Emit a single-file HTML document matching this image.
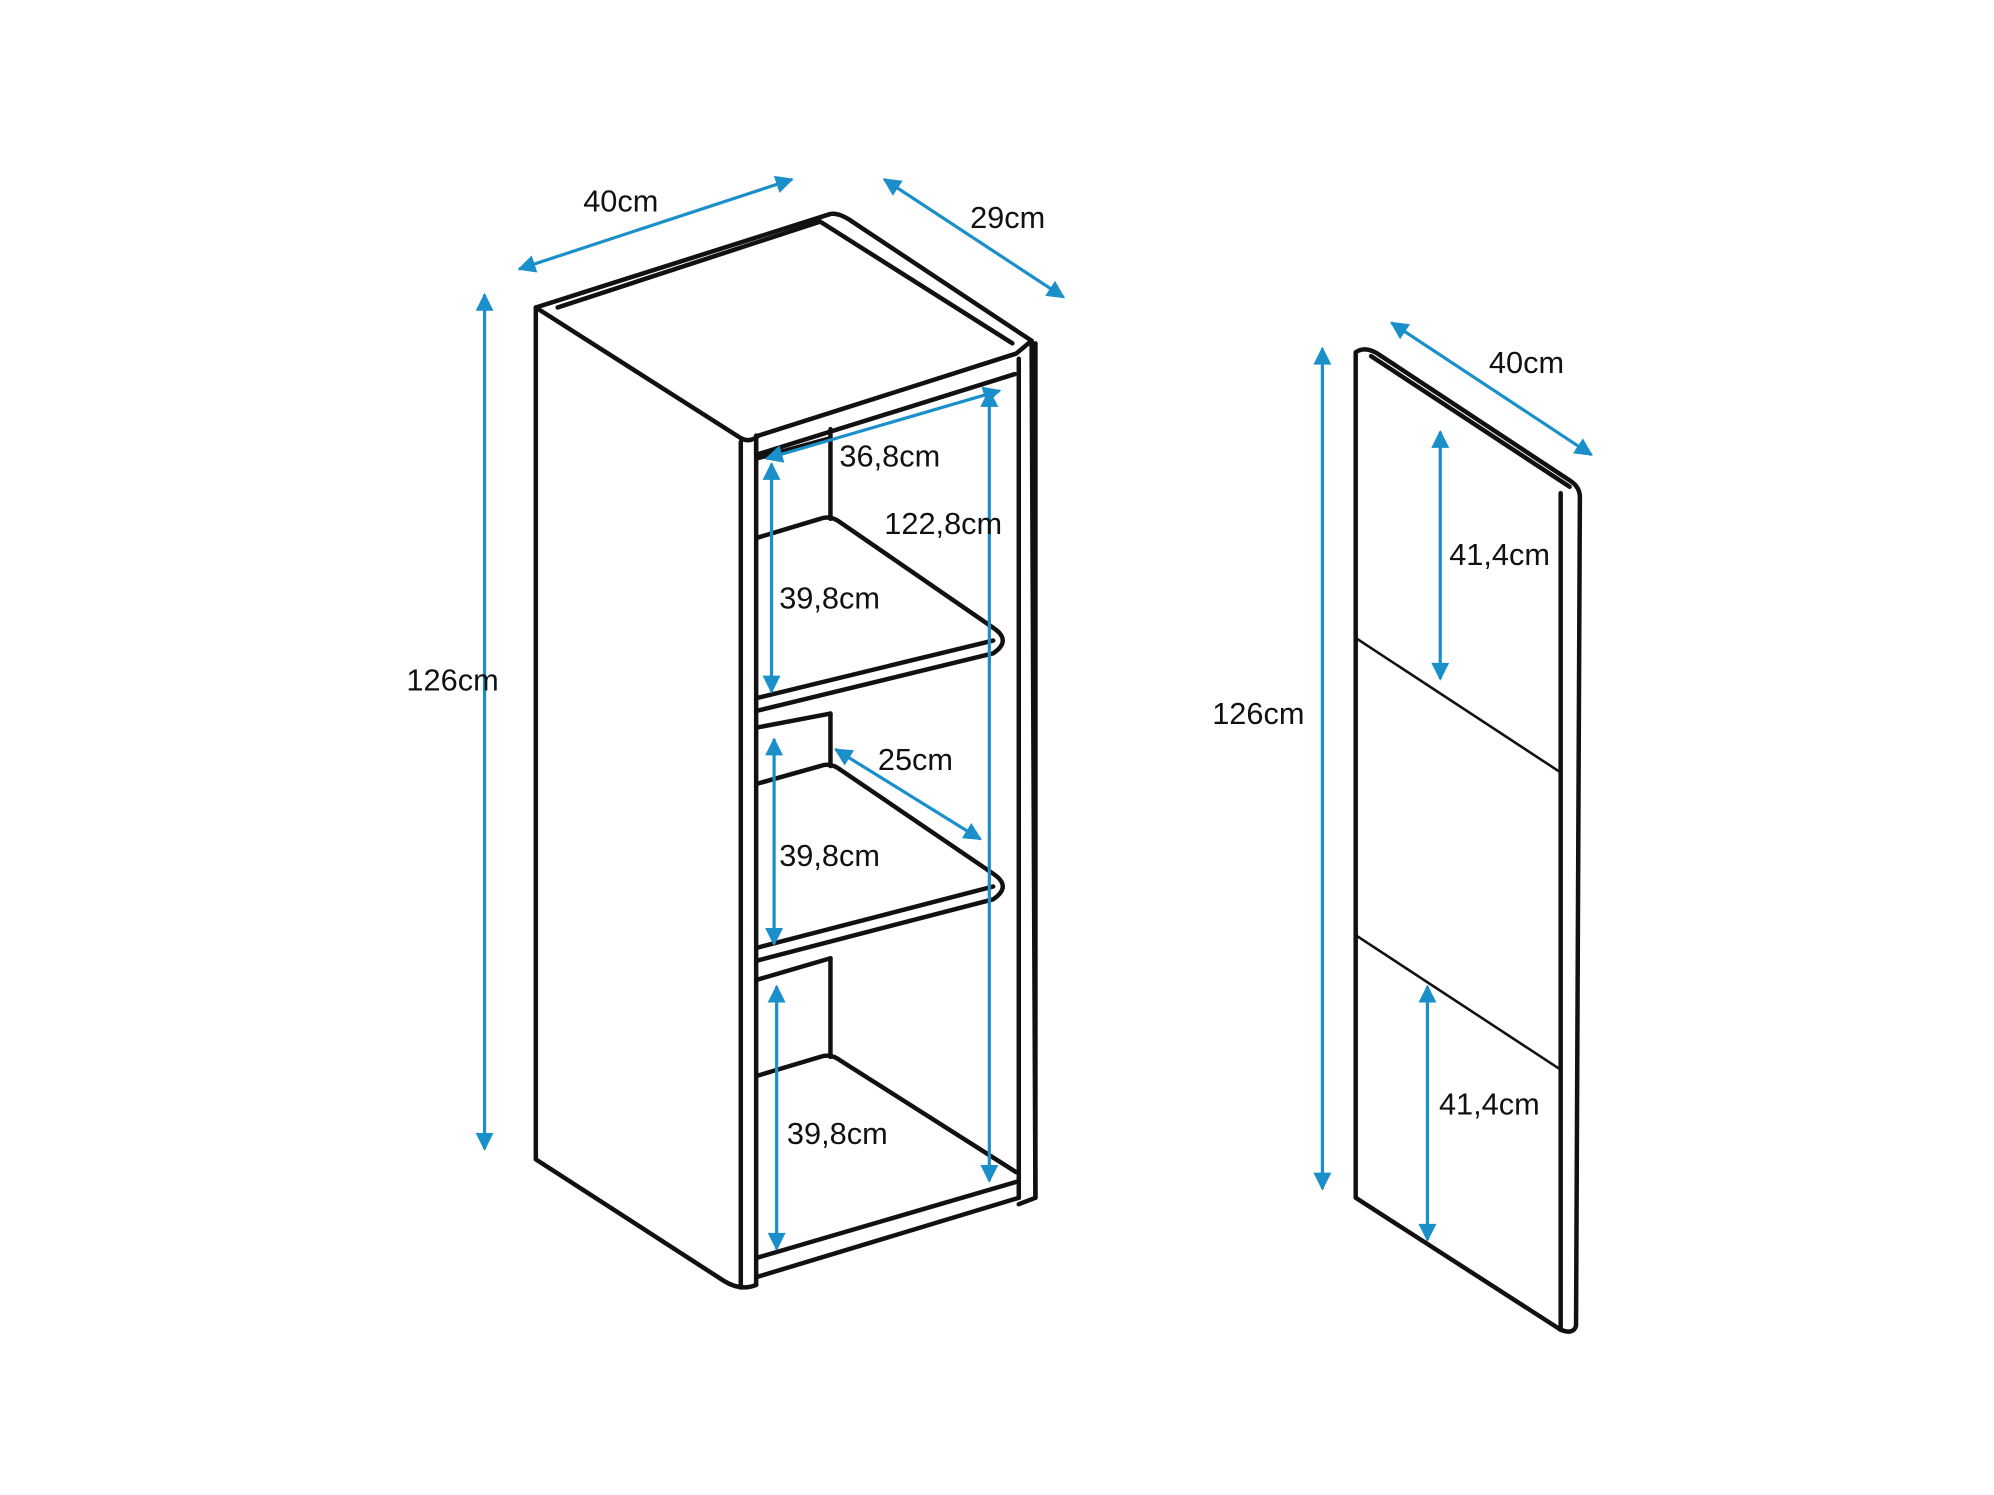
<!DOCTYPE html>
<html><head><meta charset="utf-8"><style>
html,body{margin:0;padding:0;background:#fff;}
svg{display:block;}
text{font-family:"Liberation Sans",sans-serif;font-size:24px;fill:#111;}
</style></head><body>
<svg width="1994" height="1495" viewBox="0 0 1556 1167" xmlns="http://www.w3.org/2000/svg">
<defs>
<marker id="b" viewBox="0 0 10 10" refX="9" refY="5" markerWidth="22" markerHeight="14" orient="auto-start-reverse" markerUnits="userSpaceOnUse">
<path d="M0,0 L10,5 L0,10 z" fill="#1a8fc9"/></marker>
</defs>
<g fill="none" stroke="#111" stroke-width="3.5" stroke-linejoin="round" stroke-linecap="round">
<path d="M418,240 L418,905 L565,1000 Q578,1008 590,1003"/>
<path d="M418,240 L648,167 Q655,166 665,173 L805,266 L808,935 L795,940"/>
<path d="M418,240 L578,342 Q585,346 592,340 L793,276 L805,266"/>
<path d="M435,240 L640,173 L790,268"/>
<path d="M578,345 L578,1005 M590,345 L590,1003"/>
<path d="M795,280 L795,935 M808,268 L808,935"/>
<path d="M590,340 L590,355 L792,292"/>
<path d="M648,335 L648,405 M648,557 L648,598 M648,748 L648,825"/>
<path d="M590,358 L648,342"/>
<path d="M590,420 L640,405 Q648,402 656,408 L775,490 Q790,500 775,510 L590,555"/>
<path d="M590,545 L775,500"/>
<path d="M590,568 L648,557"/>
<path d="M590,612 L640,598 Q648,595 656,601 L775,682 Q790,692 775,702 L590,750"/>
<path d="M590,740 L775,692"/>
<path d="M590,765 L648,748"/>
<path d="M590,840 L640,825 Q648,822 656,828 L793,915"/>
<path d="M590,982 L795,922"/>
<path d="M590,997 L795,935"/>
<path d="M1058,935 L1058,275 Q1065,270 1075,276 L1225,375 Q1233,380 1233,388 L1230,1035 Q1228,1042 1218,1038 L1058,935"/>
<path d="M1218,385 L1218,1038"/>
<path d="M1070,278 L1225,380"/>
</g>
<g stroke="#111" stroke-width="2">
<line x1="1058" y1="498" x2="1218" y2="603"/>
<line x1="1058" y1="730" x2="1218" y2="835"/>
</g>
<g stroke="#1a8fc9" stroke-width="2.5" marker-start="url(#b)" marker-end="url(#b)">
<line x1="405" y1="210" x2="618" y2="140"/>
<line x1="690" y1="140" x2="830" y2="232"/>
<line x1="378" y1="230" x2="378" y2="897"/>
<line x1="598" y1="358" x2="780" y2="305"/>
<line x1="772" y1="305" x2="772" y2="922"/>
<line x1="602" y1="362" x2="602" y2="540"/>
<line x1="604" y1="577" x2="604" y2="737"/>
<line x1="606" y1="770" x2="606" y2="975"/>
<line x1="652" y1="585" x2="765" y2="655"/>
<line x1="1086" y1="252" x2="1242" y2="355"/>
<line x1="1032" y1="272" x2="1032" y2="928"/>
<line x1="1124" y1="337" x2="1124" y2="530"/>
<line x1="1114" y1="770" x2="1114" y2="968"/>
</g>
<text x="455" y="165">40cm</text>
<text x="757" y="178">29cm</text>
<text x="317" y="539">126cm</text>
<text x="655" y="364">36,8cm</text>
<text x="690" y="417">122,8cm</text>
<text x="608" y="475">39,8cm</text>
<text x="685" y="601">25cm</text>
<text x="608" y="676">39,8cm</text>
<text x="614" y="893">39,8cm</text>
<text x="1162" y="291">40cm</text>
<text x="946" y="565">126cm</text>
<text x="1131" y="441">41,4cm</text>
<text x="1123" y="870">41,4cm</text>
</svg>
</body></html>
